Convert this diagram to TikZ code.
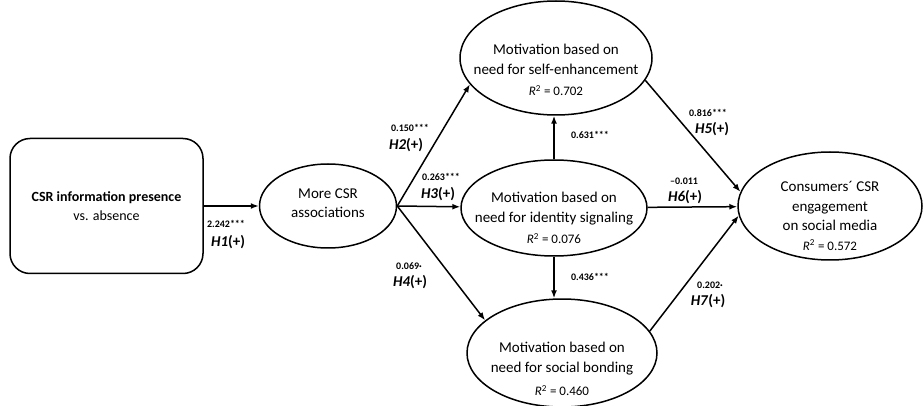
\documentclass[tikz,border=0pt]{standalone}
\usepackage{fontspec}
\setmainfont{Carlito}
\usetikzlibrary{shapes.geometric}
\usetikzlibrary{positioning}
\usetikzlibrary{arrows.meta}

\newcommand{\rsq}[1]{{\fontsize{13}{13}\selectfont\textit{R}\textsuperscript{2} = #1}}

\begin{document}
\begin{tikzpicture}[
        x=1pt, y=-1pt,
        oval/.style = {draw, ellipse, line width=1.5pt, inner sep=0pt},
        txt/.style = {align=center, inner sep=0pt, font=\fontsize{15}{19.5}\selectfont},
        coef/.style = {inner sep=0pt, font=\fontsize{10}{11}\selectfont\bfseries},
        hyp/.style = {inner sep=0pt, font=\fontsize{15}{16}\selectfont\bfseries},
        link/.style = {line width=1.5pt, -{Latex[length=8pt, width=6pt]}}
        ]
    \useasboundingbox (0,0) rectangle (924,406);
    % constructs
    \node[draw, line width=1.5pt, rounded corners=20pt, minimum width=193pt,
          minimum height=135pt, align=center, font=\fontsize{14}{19}\selectfont]
          (csr) at (106.5,206) {\textbf{CSR information presence}\\vs. absence};
    \node[oval, minimum width=137pt, minimum height=84pt] (more) at (328,206) {};
    \node[oval, minimum width=192pt, minimum height=114pt] (self) at (556,58) {};
    \node[oval, minimum width=186pt, minimum height=96pt] (ident) at (554,208) {};
    \node[oval, minimum width=190pt, minimum height=108pt] (social) at (562,353) {};
    \node[oval, minimum width=184pt, minimum height=108pt] (cons) at (830,206) {};
    % texts
    \node[txt] (moretxt) at (328,203) {More CSR\\associations};
    \node[txt] (selftxt) at (556,70) {Motivation based on\\need for self-enhancement\\[2pt]\rsq{0.702}};
    \node[txt] (identtxt) at (554,218) {Motivation based on\\need for identity signaling\\[2pt]\rsq{0.076}};
    \node[txt] (socialtxt) at (562,369) {Motivation based on\\need for social bonding\\[4pt]\rsq{0.460}};
    \node[txt] (constxt) at (830,216) {Consumers´ CSR\\engagement\\on social media\\\rsq{0.572}};
    % paths
    \draw[link] (csr) -- (more);
    \draw[link] (more.east) -- (self.197);
    \draw[link] (more.east) -- (ident);
    \draw[link] (more.east) -- (social.157);
    \draw[link] (ident.north) -- (ident.north |- self.south);
    \draw[link] (ident.south) -- (ident.south |- social.north);
    \draw[link] (self.-14) -- (cons.171);
    \draw[link] (ident) -- (cons);
    \draw[link] (social.14) -- (cons.186);
    % coefficients
    \node[coef] (c1) at (226,224) {2.242***};
    \node[hyp] (h1) at (228,242) {\textit{H1}(+)};
    \node[coef] (c2) at (410,128) {0.150***};
    \node[hyp] (h2) at (406,145) {\textit{H2}(+)};
    \node[coef] (c3) at (441,177) {0.263***};
    \node[hyp] (h3) at (438,194) {\textit{H3}(+)};
    \node[coef] (c4) at (409,266) {0.069·};
    \node[hyp] (h4) at (410,282) {\textit{H4}(+)};
    \node[coef] (c5) at (708,113) {0.816***};
    \node[hyp] (h5) at (712,129) {\textit{H5}(+)};
    \node[coef] (c6) at (684,181) {–0.011};
    \node[hyp] (h6) at (685,197) {\textit{H6}(+)};
    \node[coef] (c7) at (710,285) {0.202·};
    \node[hyp] (h7) at (708,301) {\textit{H7}(+)};
    \node[coef] (c8) at (590,135) {0.631***};
    \node[coef] (c9) at (590,277) {0.436***};
\end{tikzpicture}
\end{document}
